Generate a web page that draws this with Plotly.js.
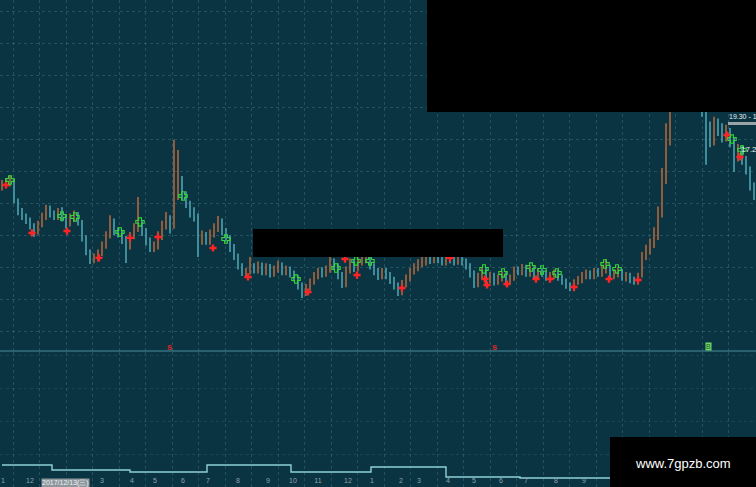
<!DOCTYPE html>
<html><head><meta charset="utf-8">
<script src="https://cdn.plot.ly/plotly-3.0.1.min.js"></script>
<style>html,body{margin:0;padding:0;background:#0b3442;overflow:hidden}#c{width:756px;height:487px}</style>
</head><body><div id="c"></div>
<script>
// candle index 0..188
const openP = [14.95,15.10,15.22,15.30,14.10,13.40,13.10,12.85,12.50,12.25,
12.70,13.10,13.62,13.30,13.15,13.45,13.05,12.72,13.02,13.25,
12.80,11.80,10.90,10.40,10.55,10.85,11.30,11.98,12.88,12.25,
12.10,11.72,11.30,11.92,12.40,12.75,12.25,11.60,11.18,11.30,
11.90,12.55,13.00,12.60,14.40,15.50,14.50,13.90,13.50,13.15,
11.65,12.00,11.65,12.05,12.40,12.88,12.25,11.80,11.25,10.65,
10.05,9.65,9.72,10.00,9.80,10.10,9.68,10.00,9.55,9.80,
10.12,9.68,9.88,9.60,9.35,8.85,8.40,8.72,9.05,9.42,
9.75,9.55,9.80,10.38,10.05,9.50,8.90,9.80,10.25,9.90,
10.30,10.42,10.60,10.05,9.72,9.42,9.75,9.48,9.22,8.85,
8.40,8.92,9.30,9.72,9.92,10.22,10.30,10.62,10.42,10.72,
10.48,10.30,10.62,10.48,10.30,10.62,10.35,10.05,9.60,8.90,
9.42,9.75,9.18,9.48,9.05,9.30,9.50,9.05,9.30,9.85,
9.68,9.98,9.55,9.85,9.42,9.72,9.60,9.30,9.42,9.62,
9.35,9.10,8.85,8.65,9.05,9.18,9.42,9.60,9.42,9.72,
9.55,9.80,9.98,9.42,9.55,9.72,9.30,9.48,9.22,9.05,
9.48,10.65,11.05,11.40,11.90,13.30,15.40,17.90,20.40,21.65,
22.90,23.60,22.98,22.35,21.72,20.78,19.85,18.60,17.90,18.92,
18.62,18.05,18.48,17.85,16.80,17.35,16.75,16.10,15.10];
const closeP = [15.14,15.26,15.39,14.20,13.45,13.20,12.95,12.58,12.20,12.64,
13.14,13.58,13.33,13.20,13.39,13.08,12.70,13.08,13.20,12.83,
11.83,10.95,10.45,10.58,10.83,11.33,11.95,12.83,12.20,12.08,
11.70,11.33,11.95,12.45,12.70,12.20,11.58,11.20,11.33,11.95,
12.58,12.95,12.58,14.45,15.45,14.45,13.95,13.45,13.20,11.70,
11.95,11.70,12.08,12.45,12.83,12.20,11.83,11.20,10.70,10.08,
9.70,9.70,9.95,9.83,10.08,9.70,9.95,9.58,9.83,10.08,
9.70,9.83,9.58,9.33,8.83,8.45,8.70,9.08,9.45,9.70,
9.58,9.83,10.33,10.08,9.45,8.95,9.83,10.20,9.95,10.33,
10.45,10.58,10.08,9.70,9.45,9.70,9.45,9.20,8.83,8.45,
8.95,9.33,9.70,9.95,10.20,10.33,10.58,10.45,10.70,10.45,
10.33,10.58,10.45,10.33,10.58,10.33,10.08,9.58,8.95,9.45,
9.70,9.20,9.45,9.08,9.33,9.45,9.08,9.33,9.83,9.70,
9.95,9.58,9.83,9.45,9.70,9.58,9.33,9.45,9.58,9.33,
9.08,8.83,8.70,9.08,9.20,9.45,9.58,9.45,9.70,9.58,
9.83,9.95,9.45,9.58,9.70,9.33,9.45,9.20,9.08,9.45,
10.70,11.08,11.45,11.95,13.33,15.45,17.95,20.45,21.70,22.95,
23.58,22.95,22.33,21.70,20.76,19.83,18.58,17.95,18.89,18.58,
18.08,18.45,17.83,16.83,17.33,16.70,16.08,15.08,14.51];
const highP = [15.45,15.55,15.75,15.50,14.30,13.70,13.35,13.10,12.75,12.90,
13.40,13.90,13.85,13.55,13.70,13.75,13.30,13.35,13.55,13.45,
12.95,12.00,11.10,10.85,11.10,11.60,12.25,13.25,13.05,12.50,
12.30,11.95,12.20,12.75,14.39,12.95,12.45,11.85,11.60,12.25,
12.90,13.45,13.25,17.95,17.33,15.70,14.75,14.15,13.75,13.35,
12.30,12.20,12.35,12.75,13.20,13.05,12.45,12.00,11.45,10.85,
10.25,9.95,10.64,10.25,10.35,10.30,10.25,10.20,10.10,10.40,
10.30,10.10,10.05,9.80,9.50,9.05,8.95,9.30,9.70,9.95,
10.00,10.10,10.65,10.55,10.25,9.70,10.05,10.55,10.45,10.60,
10.75,10.85,10.80,10.25,9.95,9.95,9.95,9.70,9.40,9.05,
9.20,9.55,9.95,10.25,10.50,10.65,10.90,10.85,10.95,10.95,
10.70,10.85,10.85,10.70,10.85,10.80,10.55,10.25,9.80,9.65,
9.95,9.95,9.70,9.65,9.55,9.75,9.70,9.55,10.05,10.05,
10.20,10.15,10.10,10.05,9.95,9.95,9.80,9.70,9.85,9.85,
9.55,9.30,9.05,9.25,9.45,9.70,9.85,9.80,9.95,9.95,
10.10,10.50,10.15,9.85,10.00,9.90,9.70,9.65,9.40,9.65,
10.95,11.40,11.80,12.50,13.80,16.20,19.00,21.20,22.50,23.80,
24.50,24.20,23.50,22.80,22.10,21.20,19.90,19.10,19.40,19.30,
19.00,18.90,18.70,18.10,17.70,17.60,16.95,16.30,15.30];
const lowP = [14.80,14.95,15.05,14.00,13.25,12.95,12.70,12.35,11.90,12.05,
12.50,12.95,13.10,12.95,12.95,12.85,12.40,12.55,12.85,12.60,
11.60,10.75,10.20,10.25,10.35,10.70,11.15,11.80,12.00,11.85,
11.45,10.26,11.10,11.75,12.20,11.95,11.35,10.95,10.95,11.10,
11.70,12.35,12.10,12.40,14.20,14.20,13.70,13.10,12.85,10.64,
11.40,11.40,11.40,11.85,12.20,12.00,11.60,10.95,10.45,9.85,
9.45,9.40,9.55,9.60,9.60,9.50,9.50,9.35,9.40,9.65,
9.50,9.50,9.35,9.10,8.60,8.08,8.20,8.55,8.90,9.25,
9.35,9.40,9.65,9.85,9.25,8.70,8.75,9.60,9.70,9.75,
10.10,10.25,9.85,9.50,9.20,9.25,9.25,8.95,8.60,8.20,
8.25,8.75,9.10,9.55,9.75,10.00,10.10,10.20,10.25,10.25,
10.10,10.10,10.25,10.10,10.15,10.10,9.85,9.35,8.70,8.75,
9.25,8.95,9.00,8.85,8.90,9.10,8.85,8.90,9.15,9.50,
9.50,9.40,9.40,9.25,9.25,9.40,9.15,9.10,9.25,9.15,
8.90,8.65,8.50,8.50,8.90,9.00,9.25,9.25,9.25,9.40,
9.40,9.60,9.25,9.25,9.35,9.15,9.10,9.00,8.90,8.90,
9.35,10.45,10.80,11.20,11.70,13.10,15.20,17.60,20.10,21.40,
22.50,22.60,21.90,21.30,20.40,19.40,16.40,17.50,17.60,18.20,
17.80,17.85,17.50,15.95,16.60,16.40,15.80,14.80,14.20];

// signal markers (candle index, price)
const sellX = [1,7.5,16.25,24.25,32,39,52.75,61.5,76.5,85.75,88.75,100,112,120.75,121.25,126.25,133.5,137,143,151.75,159,181.25,184.5];
const sellY = [15.14,12.14,12.26,10.58,11.83,11.89,11.20,9.39,8.45,10.51,9.51,8.70,10.58,9.26,8.89,8.95,9.26,9.26,8.76,9.26,9.20,18.26,16.89];
const buyX = [2,15,18.25,29.5,34.5,45.25,56,73.5,83.5,88.5,92,120.5,125.25,132.25,135,138.75,150.75,153.75,182.5,185];
const buyY = [15.45,13.20,13.14,12.20,12.83,14.45,11.76,9.26,9.95,10.39,10.39,9.89,9.64,10.01,9.83,9.64,10.20,9.89,18.01,17.33];

// lower indicator step line
const indX = [0,12.5,32,51.25,72.25,92.25,111,129.5,188.5];
const indY = [15,10,8,15,8,13,3,2,2];

// month tick labels
const tickPos = [0.25,7,25,32.5,38.25,45.25,51.5,59,66.5,72.75,79,86.5,92.5,99.75,104.25,111.5,118,124.75,131,138.5,145.5];
const tickTxt = ["1","12","3","4","5","6","7","8","9","10","11","12","1","2","3","4","5","6","7","8","9"];

const idx = openP.map((_, i) => i);
const H = 487, W = 756;
const py = y => 1 - y / H;   // pixel -> paper
const px = x => x / W;

const traces = [
  {type:'ohlc', x: idx, open: openP, high: highP, low: lowP, close: closeP,
   xaxis:'x', yaxis:'y', tickwidth:0.18,
   increasing:{line:{color:'#b0663d', width:1.6}},
   decreasing:{line:{color:'#4ea2b0', width:1.6}},
   hoverinfo:'skip', showlegend:false},
  {type:'scatter', mode:'markers', x: sellX, y: sellY, xaxis:'x', yaxis:'y',
   marker:{symbol:'cross', size:6, color:'#ff2424', line:{width:0}}, hoverinfo:'skip', showlegend:false},
  {type:'scatter', mode:'markers', x: buyX, y: buyY, xaxis:'x', yaxis:'y',
   marker:{symbol:'cross-open', size:7, color:'#36d43a', line:{width:1.1, color:'#36d43a'}}, hoverinfo:'skip', showlegend:false},
  {type:'scatter', mode:'lines', x: indX, y: indY, xaxis:'x', yaxis:'y2',
   line:{shape:'hv', color:'#8fd0d6', width:1.4}, hoverinfo:'skip', showlegend:false}
];

const gridCol = 'rgba(95,150,165,0.30)';
const gridAxis = (anchor) => ({range:[-0.5,188.5], overlaying:'x', anchor:anchor, showticklabels:false,
    tick0:2.75, dtick:6.625, showgrid:true, gridcolor:gridCol, griddash:'dot', gridwidth:1,
    zeroline:false, showline:false, ticks:''});
const layout = {
  width: W, height: H,
  margin:{l:0, r:0, t:0, b:0},
  paper_bgcolor:'#0b3442', plot_bgcolor:'#0b3442',
  showlegend:false, hovermode:false,
  xaxis:{range:[-0.5,188.5], anchor:'y2', rangeslider:{visible:false},
    tickmode:'array', tickvals: tickPos, ticktext: tickTxt, ticklabelposition:'inside',
    tickfont:{family:'Liberation Sans, Arial', size:7, color:'#8ea3aa'},
    ticks:'', showgrid:false, zeroline:false, showline:false, fixedrange:true},
  xaxis2: gridAxis('y'),
  xaxis3: gridAxis('y2'),
  yaxis:{domain:[py(351), 1], range:[4.7625, 26.7], showticklabels:false,
    showgrid:true, dtick:2, gridcolor:gridCol, griddash:'dot', zeroline:false, showline:false, ticks:''},
  yaxis2:{domain:[0, py(352)], range:[-7, 128], showticklabels:false,
    showgrid:true, tick0:-7, dtick:33, gridcolor:'rgba(95,150,165,0.18)', griddash:'dot',
    zeroline:false, showline:false, ticks:''},
  shapes:[
    {type:'line', xref:'paper', yref:'paper', x0:0, x1:1, y0:py(351), y1:py(351), line:{color:'#4a8d99', width:1}},
    {type:'rect', xref:'paper', yref:'paper', x0:px(427), x1:1, y0:py(112), y1:1, fillcolor:'#000', line:{width:0}},
    {type:'rect', xref:'paper', yref:'paper', x0:px(253), x1:px(503), y0:py(257), y1:py(229), fillcolor:'#000', line:{width:0}},
    {type:'rect', xref:'paper', yref:'paper', x0:px(610), x1:1, y0:0, y1:py(437), fillcolor:'#000', line:{width:0}},
    {type:'rect', xref:'paper', yref:'paper', x0:px(728), x1:1, y0:py(125), y1:py(122), fillcolor:'#9aa3a6', line:{width:0}}
  ],
  annotations:[
    {xref:'paper', yref:'paper', x:px(683), y:py(463), text:'www.7gpzb.com', showarrow:false,
     font:{family:'Liberation Sans, Arial', size:13, color:'#ffffff'}, xanchor:'center', yanchor:'middle'},
    {xref:'paper', yref:'paper', x:px(727), y:py(117), text:'19.30 - 1', showarrow:false,
     font:{family:'Liberation Sans, Arial', size:7, color:'#e8eef0'}, xanchor:'left', yanchor:'middle'},
    {xref:'paper', yref:'paper', x:px(739), y:py(149), text:'17.2', showarrow:false,
     font:{family:'Liberation Sans, Arial', size:8, color:'#e8eef0'}, xanchor:'left', yanchor:'middle'},
    {xref:'paper', yref:'paper', x:px(65), y:py(482.5), text:'2017/12/13(三)', showarrow:false,
     bgcolor:'#8d979c', borderpad:0, font:{family:'Liberation Sans, Arial', size:7, color:'#eef2f3'}, xanchor:'center', yanchor:'middle'},
    {xref:'paper', yref:'paper', x:px(169), y:py(347), text:'<b>s</b>', showarrow:false,
     font:{family:'Liberation Sans, Arial', size:9, color:'#e0242a'}, xanchor:'center', yanchor:'middle'},
    {xref:'paper', yref:'paper', x:px(494), y:py(347), text:'<b>s</b>', showarrow:false,
     font:{family:'Liberation Sans, Arial', size:9, color:'#e0242a'}, xanchor:'center', yanchor:'middle'},
    {xref:'paper', yref:'paper', x:px(708), y:py(346), text:'B', showarrow:false, bgcolor:'#6ed86a', borderpad:0,
     font:{family:'Liberation Sans, Arial', size:7, color:'#1a5a20'}, xanchor:'center', yanchor:'middle'}
  ]
};

// overlay axes that carry the vertical grid in both panels
traces.push({type:'scatter', mode:'markers', x:[0], y:[5], xaxis:'x2', yaxis:'y', marker:{opacity:0}, hoverinfo:'skip', showlegend:false});
traces.push({type:'scatter', mode:'markers', x:[0], y:[0], xaxis:'x3', yaxis:'y2', marker:{opacity:0}, hoverinfo:'skip', showlegend:false});

Plotly.newPlot('c', traces, layout, {displayModeBar:false, staticPlot:true});
</script></body></html>
